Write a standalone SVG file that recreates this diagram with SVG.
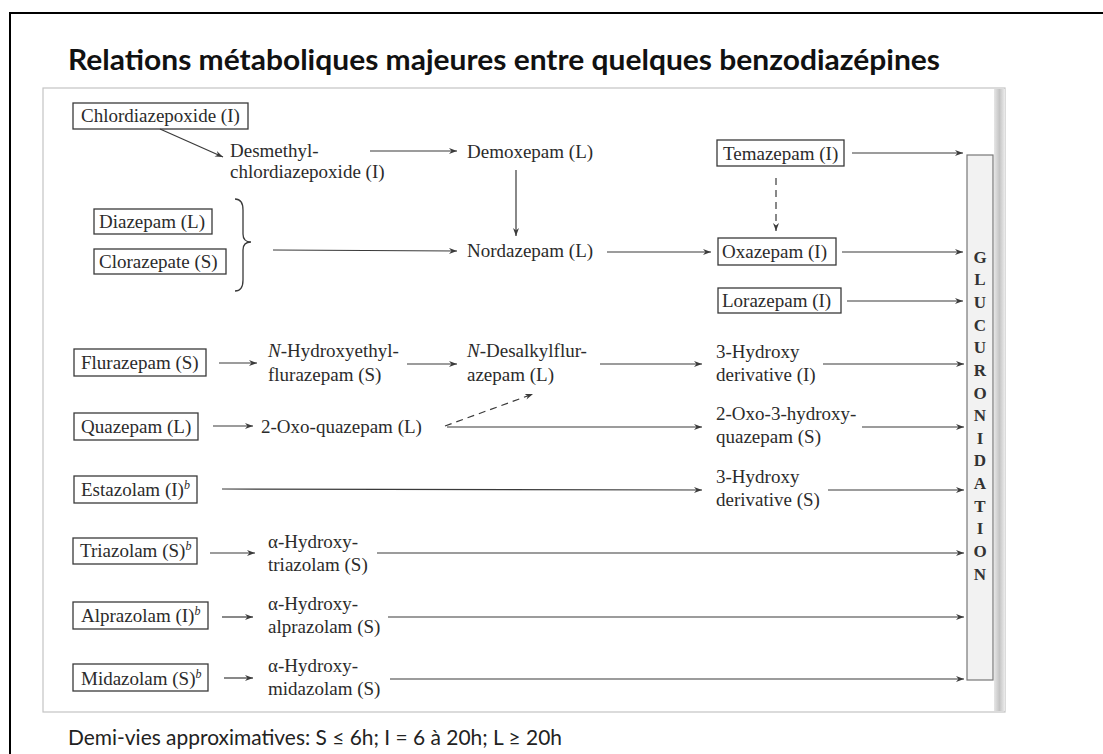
<svg xmlns="http://www.w3.org/2000/svg" width="1103" height="754" viewBox="0 0 1103 754">
<style>
.t{font-family:"Liberation Serif","Times New Roman",serif;font-size:19px;fill:#2b2b2b}
.b{fill:none;stroke:#3a3a3a;stroke-width:1.3}
.c{fill:none;stroke:#3a3a3a;stroke-width:1.2;marker-end:url(#ah)}
.d{stroke-dasharray:7,5}
.g{font-family:"Liberation Serif","Times New Roman",serif;font-size:17px;font-weight:bold;fill:#333;text-anchor:middle}
.sup{font-size:12px;font-style:italic}
</style>
<defs>
<marker id="ah" markerWidth="10" markerHeight="8" refX="8" refY="3" orient="auto" markerUnits="userSpaceOnUse">
<path d="M0,0 L8,3 L0,6 L2.5,3 z" fill="#3a3a3a"/>
</marker>
<linearGradient id="sh" x1="0" y1="0" x2="1" y2="0">
<stop offset="0" stop-color="#e6e6e6"/>
<stop offset="0.5" stop-color="#c4c4c4"/>
<stop offset="1" stop-color="#ececec"/>
</linearGradient>
</defs>
<rect x="0" y="0" width="1103" height="754" fill="#fff"/>
<rect x="10" y="13" width="1110" height="760" fill="none" stroke="#000" stroke-width="2"/>
<text x="68" y="70" font-family="Lato,'Open Sans',sans-serif" font-weight="bold" font-size="28" fill="#111" textLength="872" lengthAdjust="spacingAndGlyphs">Relations métaboliques majeures entre quelques benzodiazépines</text>
<rect x="43" y="88" width="962" height="624" fill="#fff" stroke="#c4c4c4" stroke-width="1.2"/>
<rect x="994" y="89" width="11" height="622" fill="url(#sh)"/>

<g id="glucuronidation">
<rect x="967" y="155" width="26" height="525" fill="#f2f2f2" stroke="#777" stroke-width="1.2"/>
<text class="g" x="980" y="263">G</text>
<text class="g" x="980" y="285">L</text>
<text class="g" x="980" y="308">U</text>
<text class="g" x="980" y="331">C</text>
<text class="g" x="980" y="353">U</text>
<text class="g" x="980" y="376">R</text>
<text class="g" x="980" y="399">O</text>
<text class="g" x="980" y="421">N</text>
<text class="g" x="980" y="444">I</text>
<text class="g" x="980" y="466">D</text>
<text class="g" x="980" y="489">A</text>
<text class="g" x="980" y="512">T</text>
<text class="g" x="980" y="534">I</text>
<text class="g" x="980" y="557">O</text>
<text class="g" x="980" y="580">N</text>
</g>

<g id="chlordiazepoxide"><rect class="b" x="73" y="103" width="175" height="26"/><text class="t" x="81" y="122">Chlordiazepoxide (I)</text></g>
<g id="desmethyl"><text class="t" x="230" y="157">Desmethyl-</text><text class="t" x="230" y="178">chlordiazepoxide (I)</text></g>
<g id="demoxepam"><text class="t" x="467" y="158">Demoxepam (L)</text></g>
<g id="temazepam"><rect class="b" x="717" y="140" width="127" height="26"/><text class="t" x="723" y="160">Temazepam (I)</text></g>
<g id="diazepam"><rect class="b" x="94" y="209" width="118" height="25"/><text class="t" x="99" y="228">Diazepam (L)</text></g>
<g id="clorazepate"><rect class="b" x="94" y="249" width="132" height="25"/><text class="t" x="99" y="268">Clorazepate (S)</text></g>
<g id="brace"><path class="b" d="M235,199 Q243,199 243,210 L243,234 Q243,242 251,242 Q243,242 243,250 L243,280 Q243,291 235,291"/></g>
<g id="nordazepam"><text class="t" x="467" y="257">Nordazepam (L)</text></g>
<g id="oxazepam"><rect class="b" x="718" y="238" width="118" height="27"/><text class="t" x="722" y="258">Oxazepam (I)</text></g>
<g id="lorazepam"><rect class="b" x="718" y="288" width="123" height="25"/><text class="t" x="722" y="307">Lorazepam (I)</text></g>

<g id="flurazepam"><rect class="b" x="74" y="349" width="132" height="27"/><text class="t" x="81" y="369">Flurazepam (S)</text></g>
<g id="n-hydroxyethyl"><text class="t" x="268" y="357"><tspan font-style="italic">N</tspan>-Hydroxyethyl-</text><text class="t" x="268" y="381">flurazepam (S)</text></g>
<g id="n-desalkyl"><text class="t" x="467" y="357"><tspan font-style="italic">N</tspan>-Desalkylflur-</text><text class="t" x="467" y="381">azepam (L)</text></g>
<g id="hydroxy-i"><text class="t" x="716" y="358">3-Hydroxy</text><text class="t" x="716" y="381">derivative (I)</text></g>

<g id="quazepam"><rect class="b" x="74" y="413" width="124" height="27"/><text class="t" x="81" y="433">Quazepam (L)</text></g>
<g id="oxo-quazepam"><text class="t" x="261" y="433">2-Oxo-quazepam (L)</text></g>
<g id="oxo-hydroxy-quazepam"><text class="t" x="716" y="420">2-Oxo-3-hydroxy-</text><text class="t" x="716" y="443">quazepam (S)</text></g>

<g id="estazolam"><rect class="b" x="74" y="476" width="123" height="27"/><text class="t" x="81" y="496">Estazolam (I)<tspan class="sup" dy="-7">b</tspan></text></g>
<g id="hydroxy-s"><text class="t" x="716" y="483">3-Hydroxy</text><text class="t" x="716" y="506">derivative (S)</text></g>

<g id="triazolam"><rect class="b" x="73" y="538" width="124" height="26"/><text class="t" x="80" y="557">Triazolam (S)<tspan class="sup" dy="-7">b</tspan></text></g>
<g id="a-hydroxy-triazolam"><text class="t" x="268" y="548">α-Hydroxy-</text><text class="t" x="268" y="571">triazolam (S)</text></g>

<g id="alprazolam"><rect class="b" x="73" y="602" width="135" height="27"/><text class="t" x="81" y="622">Alprazolam (I)<tspan class="sup" dy="-7">b</tspan></text></g>
<g id="a-hydroxy-alprazolam"><text class="t" x="268" y="610">α-Hydroxy-</text><text class="t" x="268" y="633">alprazolam (S)</text></g>

<g id="midazolam"><rect class="b" x="73" y="664" width="135" height="27"/><text class="t" x="81" y="685">Midazolam (S)<tspan class="sup" dy="-7">b</tspan></text></g>
<g id="a-hydroxy-midazolam"><text class="t" x="268" y="672">α-Hydroxy-</text><text class="t" x="268" y="695">midazolam (S)</text></g>

<g id="connectors">
<line class="c" x1="160" y1="129" x2="223" y2="157"/>
<line class="c" x1="370" y1="151" x2="457" y2="151"/>
<line class="c" x1="516" y1="170" x2="516" y2="236"/>
<line class="c" x1="273" y1="250" x2="457" y2="251"/>
<line class="c" x1="607" y1="252" x2="711" y2="252"/>
<line class="c" x1="852" y1="153" x2="963" y2="153"/>
<line class="c d" x1="776" y1="178" x2="776" y2="231"/>
<line class="c" x1="842" y1="252" x2="963" y2="252"/>
<line class="c" x1="847" y1="301" x2="963" y2="301"/>
<line class="c" x1="219" y1="363" x2="257" y2="363"/>
<line class="c" x1="407" y1="364" x2="457" y2="364"/>
<line class="c" x1="600" y1="364" x2="702" y2="364"/>
<line class="c" x1="823" y1="364" x2="964" y2="364"/>
<line class="c" x1="213" y1="426" x2="253" y2="426"/>
<line class="c" x1="447" y1="427" x2="702" y2="427"/>
<line class="c d" x1="445" y1="426" x2="533" y2="394"/>
<line class="c" x1="862" y1="427" x2="964" y2="427"/>
<line class="c" x1="222" y1="489" x2="702" y2="490"/>
<line class="c" x1="828" y1="490" x2="964" y2="490"/>
<line class="c" x1="210" y1="553" x2="255" y2="553"/>
<line class="c" x1="377" y1="553" x2="964" y2="553"/>
<line class="c" x1="222" y1="617" x2="253" y2="617"/>
<line class="c" x1="388" y1="617" x2="964" y2="617"/>
<line class="c" x1="224" y1="678" x2="253" y2="678"/>
<line class="c" x1="390" y1="679" x2="964" y2="679"/>
</g>

<text x="68" y="745" font-family="Lato,'Open Sans',sans-serif" font-size="21" fill="#222" textLength="494" lengthAdjust="spacingAndGlyphs">Demi-vies approximatives: S ≤ 6h; I = 6 à 20h; L ≥ 20h</text>
</svg>
